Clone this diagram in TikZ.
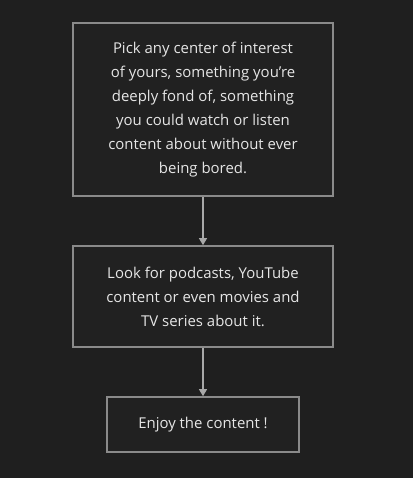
\documentclass[tikz,border=0pt]{standalone}
\usepackage{fontspec}
\setmainfont{Open Sans}
\usetikzlibrary{arrows.meta}
\definecolor{bg}{HTML}{1F1F1F}
\definecolor{boxfill}{HTML}{212121}
\definecolor{boxline}{HTML}{8A8A8A}
\definecolor{fg}{HTML}{E6E6E6}
\definecolor{arrowc}{HTML}{A8A8A8}
\begin{document}
\begin{tikzpicture}[x=1bp,y=-1bp,
  box/.style={draw=boxline, line width=1.6bp, fill=boxfill, text=fg, align=center, inner sep=0pt, font=\fontsize{15}{24}\selectfont},
  conn/.style={draw=arrowc, line width=1.2bp, -{Triangle[width=8bp,length=7bp]}}]
\fill[bg] (0,0) rectangle (413,478);
\node[box, minimum width=260bp, minimum height=173bp] (a) at (203,109.5)
  {Pick any center of interest\\of yours, something you’re\\deeply fond of, something\\you could watch or listen\\content about without ever\\being bored.};
\node[box, minimum width=260bp, minimum height=101bp] (b) at (203,296.5)
  {Look for podcasts, YouTube\\content or even movies and\\TV series about it.};
\node[box, minimum width=192bp, minimum height=55bp] (c) at (203,424.5)
  {Enjoy the content !};
\draw[conn] (a) -- (b);
\draw[conn] (b) -- (c);
\end{tikzpicture}
\end{document}
